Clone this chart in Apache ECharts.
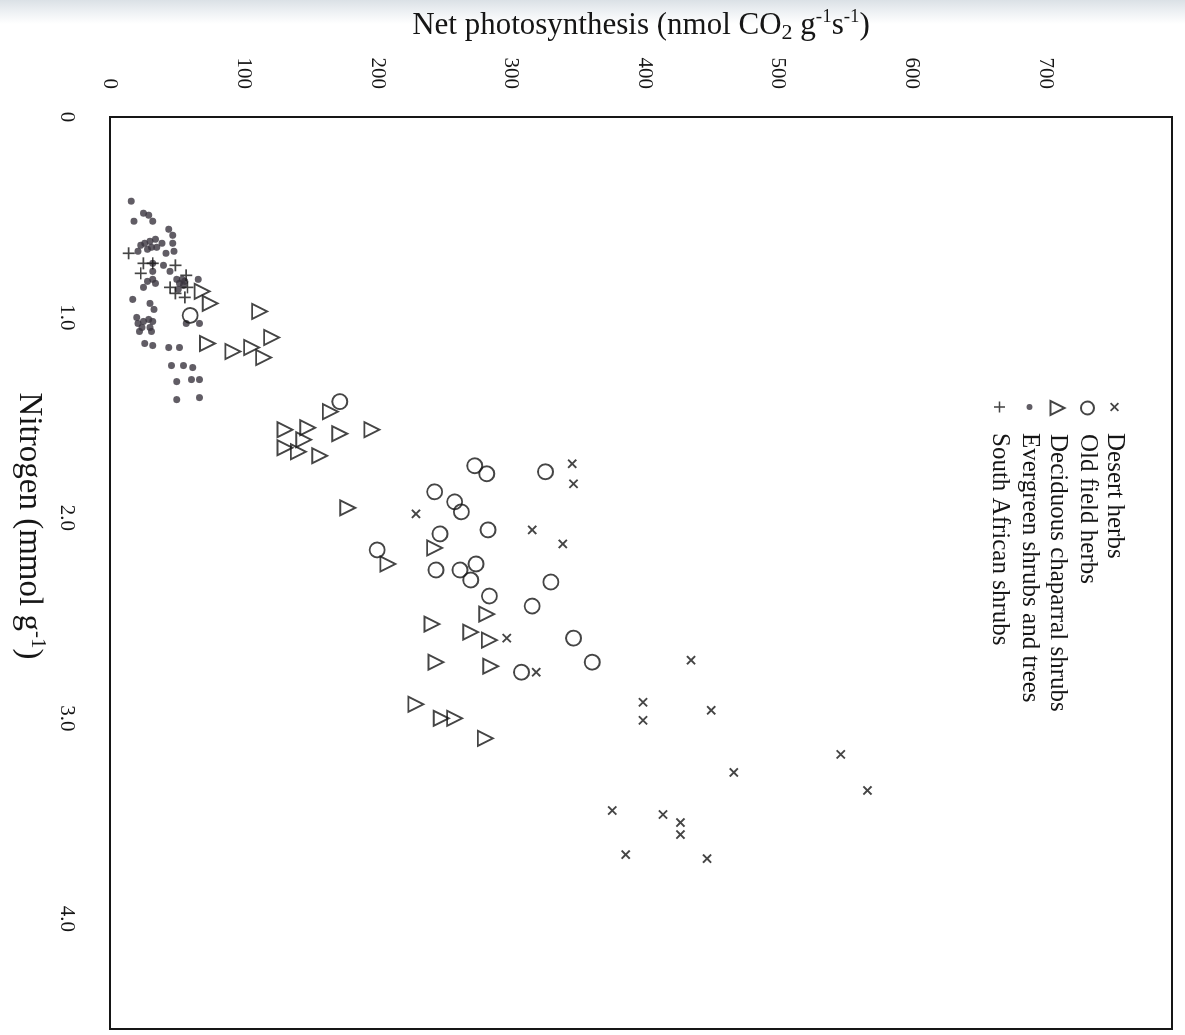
<!DOCTYPE html>
<html>
<head>
<meta charset="utf-8">
<title>Net photosynthesis and leaf nitrogen</title>
<script src="https://cdn.jsdelivr.net/npm/echarts@6/dist/echarts.min.js"></script>
<style>
  html, body {
    margin: 0;
    padding: 0;
    width: 1185px;
    height: 1035px;
    overflow: hidden;
    background: linear-gradient(to bottom, #dbe1e6 0px, #eef1f4 12px, #ffffff 24px);
  }
  /* the figure is printed sideways: draw it upright, then turn it a quarter clockwise */
  #chart {
    position: absolute;
    left: 0;
    top: 0;
    width: 1035px;
    height: 1185px;
    transform-origin: 0 0;
    transform: translate(1185px, 0) rotate(90deg);
  }
</style>
</head>
<body>
<div id="chart"></div>
<script>
// points are [nitrogen (mmol g-1), net photosynthesis (nmol CO2 g-1 s-1)]
const desertHerbs = [
  [1.73, 346], [1.83, 347], [1.98, 229], [2.06, 316], [2.13, 339],
  [2.60, 297], [2.77, 319], [2.71, 435], [2.92, 399], [3.01, 399],
  [2.96, 450], [3.18, 547], [3.27, 467], [3.36, 567], [3.46, 376],
  [3.48, 414], [3.52, 427], [3.58, 427], [3.68, 386], [3.70, 447]
];
const oldFieldHerbs = [
  [0.99, 60], [1.42, 172], [2.16, 200], [1.74, 273], [1.78, 282],
  [1.77, 326], [1.87, 243], [1.92, 258], [1.97, 263], [2.08, 247],
  [2.06, 283], [2.26, 244], [2.26, 262], [2.23, 274], [2.31, 270],
  [2.32, 330], [2.39, 284], [2.44, 316], [2.60, 347], [2.72, 361],
  [2.77, 308]
];
const chaparralShrubs = [
  [0.87, 69], [0.93, 75], [0.97, 112], [1.13, 73], [1.17, 92],
  [1.15, 106], [1.10, 121], [1.20, 115], [1.47, 165], [1.56, 131],
  [1.55, 148], [1.58, 172], [1.56, 196], [1.61, 145], [1.65, 131],
  [1.67, 141], [1.69, 157], [1.95, 178], [2.23, 208], [2.15, 243],
  [2.48, 282], [2.53, 241], [2.57, 270], [2.61, 284], [2.72, 244],
  [2.74, 285], [2.93, 229], [3.00, 248], [3.00, 258], [3.10, 281]
];
const evergreenShrubs = [
  [0.42, 16], [0.48, 25], [0.49, 29], [0.52, 32], [0.52, 18],
  [0.56, 44], [0.59, 47], [0.63, 47], [0.67, 48], [0.68, 42],
  [0.64, 23], [0.63, 26], [0.62, 30], [0.61, 34], [0.63, 39],
  [0.65, 31], [0.66, 28], [0.67, 21], [0.65, 35], [0.73, 32],
  [0.74, 40], [0.77, 45], [0.77, 32], [0.81, 50], [0.81, 54],
  [0.83, 52], [0.82, 56], [0.84, 55], [0.86, 51], [0.81, 66],
  [0.82, 28], [0.81, 32], [0.83, 34], [0.85, 25], [0.91, 17],
  [0.93, 30], [0.96, 33], [1.00, 20], [1.02, 25], [1.01, 29],
  [1.02, 32], [1.03, 21], [1.05, 24], [1.05, 30], [1.07, 22],
  [1.07, 31], [1.03, 57], [1.03, 67], [1.13, 26], [1.14, 32],
  [1.15, 44], [1.15, 52], [1.24, 46], [1.24, 55], [1.25, 62],
  [1.32, 50], [1.31, 61], [1.31, 67], [1.41, 50], [1.40, 67]
];
const southAfricanShrubs = [
  [0.68, 14], [0.73, 25], [0.73, 32], [0.78, 23], [0.74, 49],
  [0.79, 57], [0.85, 45], [0.88, 49], [0.85, 58], [0.90, 56]
];

const nitrogenRange = [0, 4.55];
const nitrogenStep = 1;
const photoRange = [0, 795];
const photoStep = 100;

const SERIF = '"Liberation Serif", "Times New Roman", "DejaVu Serif", serif';
const INK = '#161616';
const CROSS = 'path://M0,1.4 L1.4,0 L5,3.6 L8.6,0 L10,1.4 L6.4,5 L10,8.6 L8.6,10 L5,6.4 L1.4,10 L0,8.6 L3.6,5 Z';
const PLUS = 'path://M4.3,0 L5.7,0 L5.7,4.3 L10,4.3 L10,5.7 L5.7,5.7 L5.7,10 L4.3,10 L4.3,5.7 L0,5.7 L0,4.3 L4.3,4.3 Z';

const hollow = { color: 'rgba(255,255,255,0)', borderColor: INK, borderWidth: 1.9 };

// legend order top to bottom; drawing order is set separately so the dots sit underneath
const groups = [
  { name: 'Desert herbs', data: desertHerbs, symbol: CROSS, size: 9.5, icon: 9, style: { color: INK } },
  { name: 'Old field herbs', data: oldFieldHerbs, symbol: 'circle', size: 15, icon: 13, style: hollow },
  { name: 'Deciduous chaparral shrubs', data: chaparralShrubs, symbol: 'triangle', size: 15, icon: 14, style: hollow },
  { name: 'Evergreen shrubs and trees', data: evergreenShrubs, symbol: 'circle', size: 7, icon: 6, style: { color: '#39343f' } },
  { name: 'South African shrubs', data: southAfricanShrubs, symbol: PLUS, size: 12, icon: 11, style: { color: INK } }
];
const drawOrder = [3, 4, 2, 1, 0];
const legendTops = [58, 85, 115, 143, 173];

const chart = echarts.init(document.getElementById('chart'));

chart.setOption({
  animation: false,
  grid: {
    left: 115,
    right: 6,
    top: 13,
    bottom: 110,
    show: true,
    borderColor: INK,
    borderWidth: 2
  },
  legend: groups.map((g, i) => ({
    data: [g.name],
    orient: 'vertical',
    left: 407 - g.icon / 2,
    top: legendTops[i],
    padding: 0,
    itemWidth: g.icon,
    itemHeight: g.icon,
    selectedMode: false,
    textStyle: {
      fontFamily: SERIF,
      fontSize: 25,
      color: INK,
      padding: [0, 0, 0, 21 - g.icon / 2]
    }
  })),
  xAxis: {
    type: 'value',
    min: nitrogenRange[0],
    max: nitrogenRange[1],
    interval: nitrogenStep,
    position: 'bottom',
    name: 'Nitrogen (mmol g{sup|-1})',
    nameLocation: 'middle',
    nameGap: 62,
    nameTextStyle: {
      fontFamily: SERIF,
      fontSize: 33,
      color: INK,
      lineHeight: 38,
      padding: [0, 94, 0, 0],
      rich: {
        sup: { fontFamily: SERIF, fontSize: 21, color: INK, lineHeight: 21, verticalAlign: 'top' }
      }
    },
    axisLine: { show: false },
    axisTick: { show: false },
    splitLine: { show: false },
    axisLabel: {
      fontFamily: SERIF,
      fontSize: 21,
      color: INK,
      margin: 33,
      showMaxLabel: false,
      formatter: v => (v === 0 ? '0' : v.toFixed(1))
    }
  },
  yAxis: {
    type: 'value',
    min: photoRange[0],
    max: photoRange[1],
    interval: photoStep,
    name: 'Net photosynthesis (nmol CO{sub|2} g{sup|-1}s{sup|-1})',
    nameLocation: 'middle',
    nameGap: 73,
    nameTextStyle: {
      fontFamily: SERIF,
      fontSize: 31,
      color: INK,
      lineHeight: 36,
      rich: {
        sub: { fontFamily: SERIF, fontSize: 22, color: INK, lineHeight: 22, verticalAlign: 'bottom' },
        sup: { fontFamily: SERIF, fontSize: 19, color: INK, lineHeight: 19, verticalAlign: 'top' }
      }
    },
    axisLine: { show: false },
    axisTick: { show: false },
    splitLine: { show: false },
    axisLabel: {
      fontFamily: SERIF,
      fontSize: 21,
      color: INK,
      margin: 28,
      showMaxLabel: false
    }
  },
  series: drawOrder.map(i => ({
    name: groups[i].name,
    type: 'scatter',
    data: groups[i].data,
    symbol: groups[i].symbol,
    symbolSize: groups[i].size,
    itemStyle: groups[i].style,
    emphasis: { disabled: true }
  }))
});
</script>
</body>
</html>
